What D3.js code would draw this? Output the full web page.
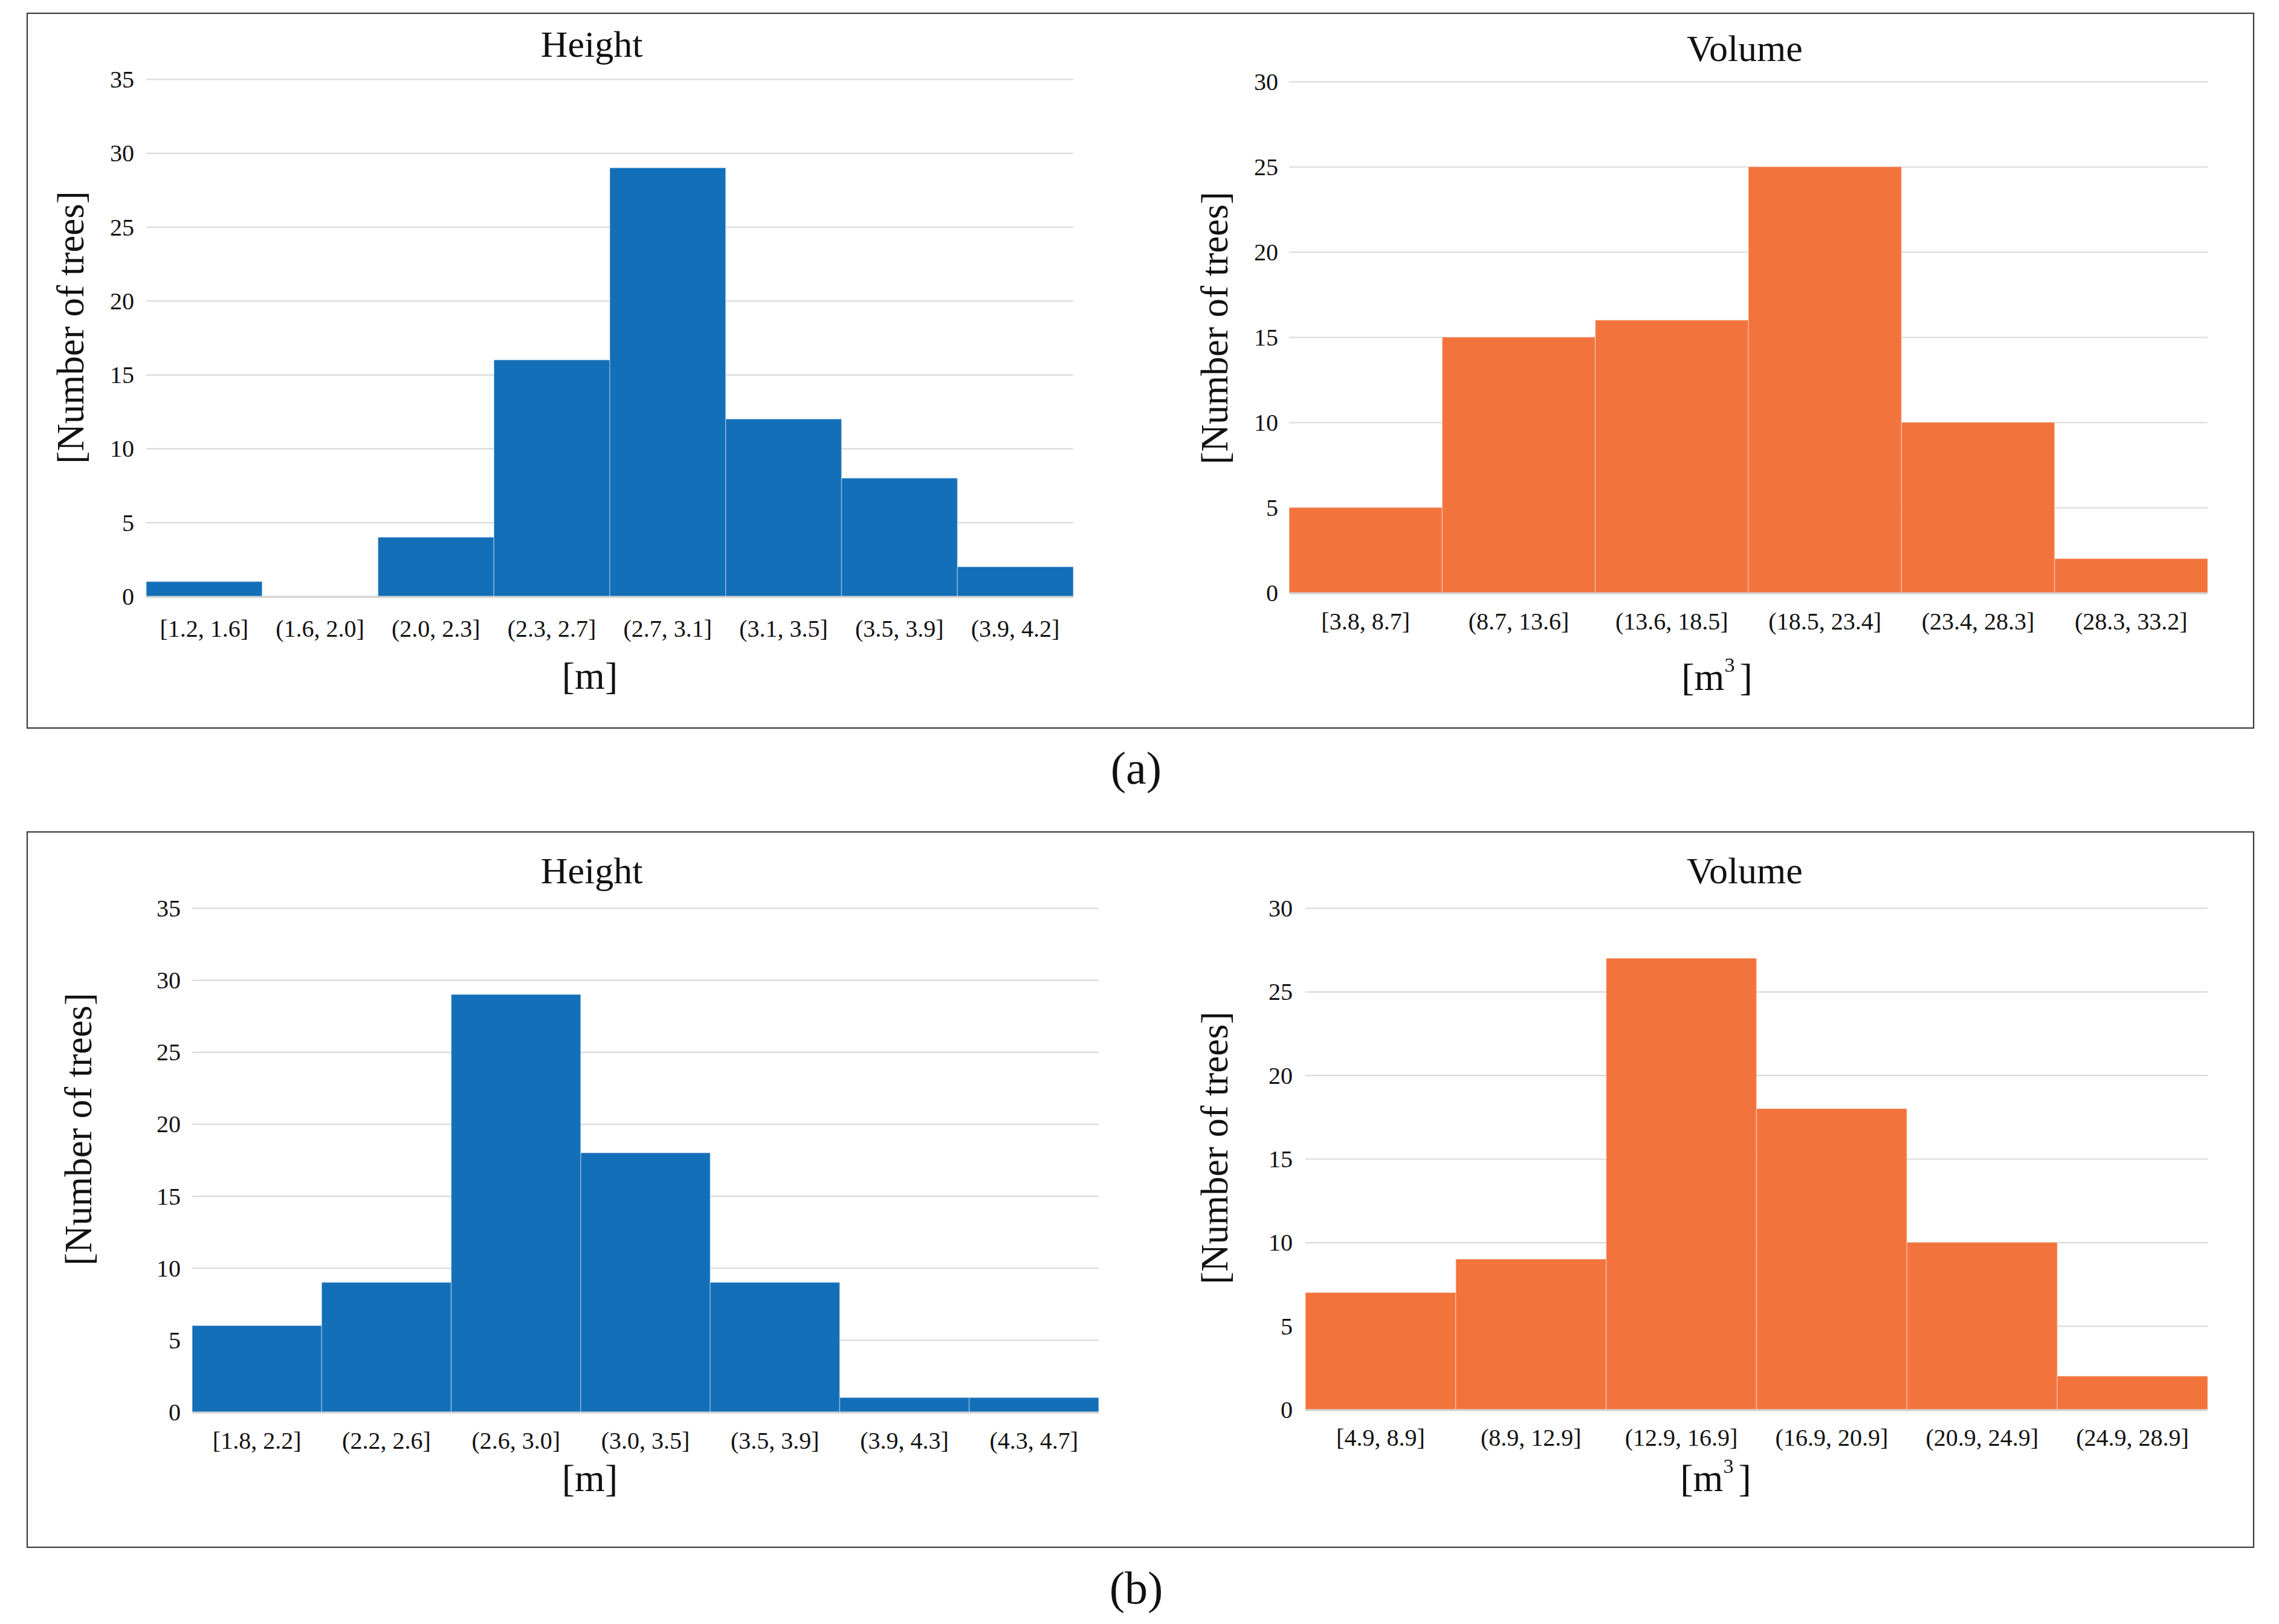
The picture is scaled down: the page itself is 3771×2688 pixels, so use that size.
<!DOCTYPE html>
<html>
<head>
<meta charset="utf-8">
<script src="https://cdn.jsdelivr.net/npm/d3@7/dist/d3.min.js"></script>
<style>
  html, body { margin: 0; padding: 0; background: #fff; }
  svg { display: block; }
  text { font-family: "Liberation Serif", "Times New Roman", serif; fill: #111; }
</style>
</head>
<body>
<svg id="chart" width="3771" height="2688"></svg>
<script>
// ---------- data ----------
const heightA_bins = ["[1.2, 1.6]", "(1.6, 2.0]", "(2.0, 2.3]", "(2.3, 2.7]", "(2.7, 3.1]", "(3.1, 3.5]", "(3.5, 3.9]", "(3.9, 4.2]"];
const heightA_counts = [1, 0, 4, 16, 29, 12, 8, 2];
const volumeA_bins = ["[3.8, 8.7]", "(8.7, 13.6]", "(13.6, 18.5]", "(18.5, 23.4]", "(23.4, 28.3]", "(28.3, 33.2]"];
const volumeA_counts = [5, 15, 16, 25, 10, 2];
const heightB_bins = ["[1.8, 2.2]", "(2.2, 2.6]", "(2.6, 3.0]", "(3.0, 3.5]", "(3.5, 3.9]", "(3.9, 4.3]", "(4.3, 4.7]"];
const heightB_counts = [6, 9, 29, 18, 9, 1, 1];
const volumeB_bins = ["[4.9, 8.9]", "(8.9, 12.9]", "(12.9, 16.9]", "(16.9, 20.9]", "(20.9, 24.9]", "(24.9, 28.9]"];
const volumeB_counts = [7, 9, 27, 18, 10, 2];
const heightTicks = [0, 5, 10, 15, 20, 25, 30, 35];
const volumeTicks = [0, 5, 10, 15, 20, 25, 30];
const panelLabels = ["(a)", "(b)"];

// ---------- layout ----------
const BLUE = "#136fb8", ORANGE = "#f2743c";
const svg = d3.select("#chart");

const panels = [
  { bins: heightA_bins, counts: heightA_counts, ticks: heightTicks, max: 35, color: BLUE, title: "Height", unit: "m",
    x0: 242, x1: 1776, y0: 987, y1: 131, titleX: 979, titleY: 94, tickLabelR: 222, xLabY: 1054,
    xTitleX: 976, xTitleY: 1140, yTitleX: 138, yTitleY: 542 },
  { bins: volumeA_bins, counts: volumeA_counts, ticks: volumeTicks, max: 30, color: ORANGE, title: "Volume", unit: "m3",
    x0: 2133, x1: 3653, y0: 981, y1: 135, titleX: 2887, titleY: 101, tickLabelR: 2115, xLabY: 1042,
    xTitleX: 2841, xTitleY: 1142, yTitleX: 2031, yTitleY: 543 },
  { bins: heightB_bins, counts: heightB_counts, ticks: heightTicks, max: 35, color: BLUE, title: "Height", unit: "m",
    x0: 318, x1: 1818, y0: 2337, y1: 1503, titleX: 979, titleY: 1462, tickLabelR: 299, xLabY: 2398,
    xTitleX: 976, xTitleY: 2468, yTitleX: 151, yTitleY: 1869 },
  { bins: volumeB_bins, counts: volumeB_counts, ticks: volumeTicks, max: 30, color: ORANGE, title: "Volume", unit: "m3",
    x0: 2160, x1: 3653, y0: 2333, y1: 1503, titleX: 2887, titleY: 1462, tickLabelR: 2139, xLabY: 2393,
    xTitleX: 2839, xTitleY: 2468, yTitleX: 2031, yTitleY: 1900 }
];

// frames
const frames = [{ x: 45, y: 22, w: 3684, h: 1183 }, { x: 45, y: 1377, w: 3684, h: 1184 }];
frames.forEach(f => {
  svg.append("rect").attr("x", f.x).attr("y", f.y).attr("width", f.w).attr("height", f.h)
    .attr("fill", "none").attr("stroke", "#3a3a3a").attr("stroke-width", 2.2);
});

panels.forEach(p => {
  const x = d3.scaleBand().domain(p.bins).range([p.x0, p.x1]).padding(0);
  const y = d3.scaleLinear().domain([0, p.max]).range([p.y0, p.y1]);
  const g = svg.append("g");

  // gridlines
  const grid = g.append("g").attr("transform", `translate(${p.x0},0)`)
    .call(d3.axisLeft(y).tickValues(p.ticks).tickSize(-(p.x1 - p.x0)).tickFormat(""));
  grid.select(".domain").remove();
  grid.selectAll(".tick line").attr("stroke", "#d9d9d9").attr("stroke-width", 2.2);

  // tick labels
  g.selectAll(".ylab").data(p.ticks).join("text")
    .attr("x", p.tickLabelR).attr("y", d => y(d) + 14)
    .attr("text-anchor", "end").attr("font-size", 40).text(d => d);

  // bars
  g.selectAll(".bar").data(p.bins).join("rect")
    .attr("x", d => x(d)).attr("width", x.bandwidth())
    .attr("y", (d, i) => y(p.counts[i]))
    .attr("height", (d, i) => p.y0 - y(p.counts[i]))
    .attr("fill", p.color)
    .attr("stroke", "rgba(255,255,255,0.35)").attr("stroke-width", 1.5);

  // baseline
  g.append("line").attr("x1", p.x0).attr("x2", p.x1).attr("y1", p.y0 + 1).attr("y2", p.y0 + 1)
    .attr("stroke", "#d0d0d0").attr("stroke-width", 3);

  // x labels
  g.selectAll(".xlab").data(p.bins).join("text")
    .attr("x", d => x(d) + x.bandwidth() / 2).attr("y", p.xLabY)
    .attr("text-anchor", "middle").attr("font-size", 40).text(d => d);

  // title
  g.append("text").attr("x", p.titleX).attr("y", p.titleY).attr("text-anchor", "middle")
    .attr("font-size", 62).text(p.title);

  // x title
  const xt = g.append("text").attr("x", p.xTitleX).attr("y", p.xTitleY).attr("text-anchor", "middle")
    .attr("font-size", 64);
  if (p.unit === "m3") {
    xt.append("tspan").text("[m");
    xt.append("tspan").attr("font-size", 34).attr("dy", -30).text("3");
    xt.append("tspan").attr("dy", 30).attr("dx", 8).text("]");
  } else {
    xt.text("[m]");
  }

  // y title
  g.append("text").attr("transform", `translate(${p.yTitleX},${p.yTitleY}) rotate(-90)`)
    .attr("text-anchor", "middle").attr("font-size", 63).text("[Number of trees]");
});

// panel labels
svg.selectAll(".plab").data(panelLabels).join("text")
  .attr("x", 1880).attr("y", (d, i) => i === 0 ? 1297 : 2654)
  .attr("text-anchor", "middle").attr("font-size", 76).text(d => d);
</script>
</body>
</html>
